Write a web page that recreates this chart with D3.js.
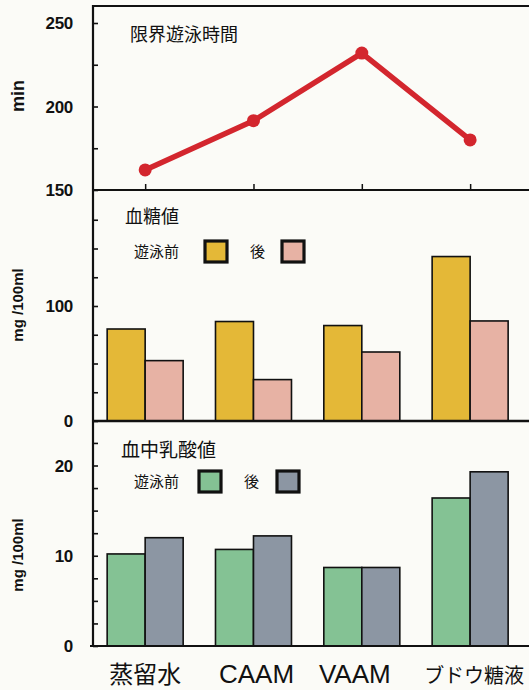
<!DOCTYPE html>
<html><head><meta charset="utf-8">
<script src="https://cdn.jsdelivr.net/npm/d3@7"></script>
<style>
html,body{margin:0;padding:0;background:#fbfbf7;}
svg{display:block;}
.num{font-family:"Liberation Sans",Arial,sans-serif;font-weight:bold;font-size:17px;fill:#111;letter-spacing:-0.3px;}
.ttl{font-family:"Liberation Sans",Arial,sans-serif;font-weight:bold;font-size:15px;fill:#111;}
.cjk{font-family:"Noto Sans CJK JP","Noto Sans CJK SC",sans-serif;fill:#111;}
</style></head>
<body>
<svg id="c" width="529" height="690"></svg>
<script>
const categories = ["蒸留水", "CAAM", "VAAM", "ブドウ糖液"];
const swimTime = [162, 191.5, 232, 180];          // 限界遊泳時間 (min)
const glucoseBefore = [80, 86.5, 83, 143];        // 血糖値 遊泳前 (mg/100ml)
const glucoseAfter = [52.5, 36, 60, 87];          // 血糖値 後
const lactateBefore = [10.2, 10.7, 8.7, 16.4];    // 血中乳酸値 遊泳前 (mg/100ml)
const lactateAfter = [12.0, 12.2, 8.7, 19.3];     // 血中乳酸値 後
const swimTicks = [150, 200, 250];
const glucoseTicks = [0, 100];
const lactateTicks = [0, 10, 20];
const phases = ["遊泳前", "後"];

const svg = d3.select("#c");
const axisX = 93, rightX = 529;

const x = d3.scaleBand().domain(categories).range([91, 524.3]).padding(0);
const sub = d3.scaleBand().domain(phases).range([-38, 38]).padding(0);
const cx = c => x(c) + x.bandwidth() / 2;

// scales
const y1 = d3.scaleLinear().domain([150, 250]).range([190, 23]);
const y2 = d3.scaleLinear().domain([0, 100]).range([421, 306]);
const y3 = d3.scaleLinear().domain([0, 20]).range([646, 465.5]);

function yAxis(scale, major, minorStep, minorMax, minorMin) {
  const g = svg.append("g").attr("transform", `translate(${axisX},0)`);
  const minor = d3.range(minorMin, minorMax + 0.001, minorStep);
  const ax = d3.axisRight(scale).tickValues(minor).tickSize(5).tickFormat("");
  g.call(ax);
  g.select(".domain").remove();
  g.selectAll(".tick line").attr("stroke", "#111").attr("stroke-width", 1.6);
  major.forEach(v => {
    svg.append("text").attr("class", "num").attr("x", 73).attr("y", scale(v) + 6)
      .attr("text-anchor", "end").text(v);
  });
}

// ----- Panel 1: line -----
svg.append("line").attr("x1", axisX).attr("x2", rightX).attr("y1", 6).attr("y2", 6)
  .attr("stroke", "#111").attr("stroke-width", 2);
svg.append("line").attr("x1", axisX).attr("x2", axisX).attr("y1", 5).attr("y2", 647)
  .attr("stroke", "#111").attr("stroke-width", 2.2);
yAxis(y1, swimTicks, 25, 250, 150);
svg.append("g").attr("transform", "translate(0,190)")
  .call(d3.axisTop(d3.scalePoint().domain(categories).range([cx(categories[0]), cx(categories[3])])).tickSize(6).tickFormat(""))
  .call(g => { g.select(".domain").remove(); g.selectAll(".tick line").attr("stroke", "#111").attr("stroke-width", 1.5); });

const line = d3.line().x((d, i) => cx(categories[i])).y(d => y1(d));
svg.append("path").datum(swimTime).attr("d", line).attr("fill", "none")
  .attr("stroke", "#d3262e").attr("stroke-width", 5.5).attr("stroke-linejoin", "round");
svg.selectAll(".pt").data(swimTime).enter().append("circle")
  .attr("cx", (d, i) => cx(categories[i])).attr("cy", d => y1(d)).attr("r", 6.5).attr("fill", "#d3262e");
svg.append("text").attr("class", "cjk").attr("x", 130).attr("y", 41).style("font-size", "18px").text("限界遊泳時間");
svg.append("text").attr("class", "ttl").style("font-size", "18px").attr("transform", "translate(24,96) rotate(-90)")
  .attr("text-anchor", "middle").text("min");

// ----- Panel 2: glucose -----
svg.append("line").attr("x1", axisX).attr("x2", rightX).attr("y1", 190).attr("y2", 190)
  .attr("stroke", "#111").attr("stroke-width", 2.2);
yAxis(y2, glucoseTicks, 25, 175, 0);
svg.append("text").attr("class", "ttl").attr("transform", "translate(23,305) rotate(-90)")
  .attr("text-anchor", "middle").text("mg /100ml");

function bars(scale, before, after, colors) {
  const data = [];
  categories.forEach((c, i) => {
    data.push({ c, p: phases[0], v: before[i] });
    data.push({ c, p: phases[1], v: after[i] });
  });
  svg.append("g").selectAll("rect").data(data).enter().append("rect")
    .attr("x", d => cx(d.c) + sub(d.p)).attr("width", sub.bandwidth())
    .attr("y", d => scale(d.v)).attr("height", d => scale(0) - scale(d.v))
    .attr("fill", d => d.p === phases[0] ? colors[0] : colors[1])
    .attr("stroke", "#111").attr("stroke-width", 1.6);
}
bars(y2, glucoseBefore, glucoseAfter, ["#e4b837", "#e7b2a4"]);

function legend(title, tx, ty, tsize, ly, colors, sx1, sx2) {
  svg.append("text").attr("class", "cjk").attr("x", tx).attr("y", ty).style("font-size", tsize + "px").text(title);
  svg.append("text").attr("class", "cjk").attr("x", 134).attr("y", ly + 6).style("font-size", "15px").text(phases[0]);
  svg.append("text").attr("class", "cjk").attr("x", sx1 + 45).attr("y", ly + 6).style("font-size", "15px").text(phases[1]);
  [[sx1, colors[0]], [sx2, colors[1]]].forEach(([sx, col]) => {
    svg.append("rect").attr("x", sx).attr("y", ly - 10).attr("width", 22).attr("height", 21)
      .attr("fill", col).attr("stroke", "#111").attr("stroke-width", 3.2);
  });
}
legend("血糖値", 125, 223, 18, 251, ["#e4b837", "#e7b2a4"], 205, 282);

// ----- Panel 3: lactate -----
svg.append("line").attr("x1", axisX).attr("x2", rightX).attr("y1", 421).attr("y2", 421)
  .attr("stroke", "#111").attr("stroke-width", 2.4);
yAxis(y3, lactateTicks, 2.5, 22.5, 0);
svg.append("text").attr("class", "ttl").attr("transform", "translate(23,555) rotate(-90)")
  .attr("text-anchor", "middle").text("mg /100ml");
bars(y3, lactateBefore, lactateAfter, ["#84c294", "#8c96a3"]);
legend("血中乳酸値", 121, 457, 19, 481, ["#84c294", "#8c96a3"], 199, 277);
svg.append("line").attr("x1", 90).attr("x2", rightX).attr("y1", 646).attr("y2", 646)
  .attr("stroke", "#111").attr("stroke-width", 2.2);

// category labels
const labelStyle = [
  { cls: "cjk", size: 24, dx: 0 },
  { cls: "lat", size: 26, dx: 3 },
  { cls: "lat", size: 26, dx: -7 },
  { cls: "cjk", size: 20, dx: 4 }
];
categories.forEach((c, i) => {
  const s = labelStyle[i];
  svg.append("text").attr("x", cx(c) + s.dx).attr("y", 683).attr("text-anchor", "middle")
    .attr("font-size", s.size)
    .attr("font-family", s.cls === "cjk" ? "'Noto Sans CJK JP',sans-serif" : "'Liberation Sans',Arial,sans-serif")
    .attr("fill", "#111").text(c);
});
</script>
</body></html>
